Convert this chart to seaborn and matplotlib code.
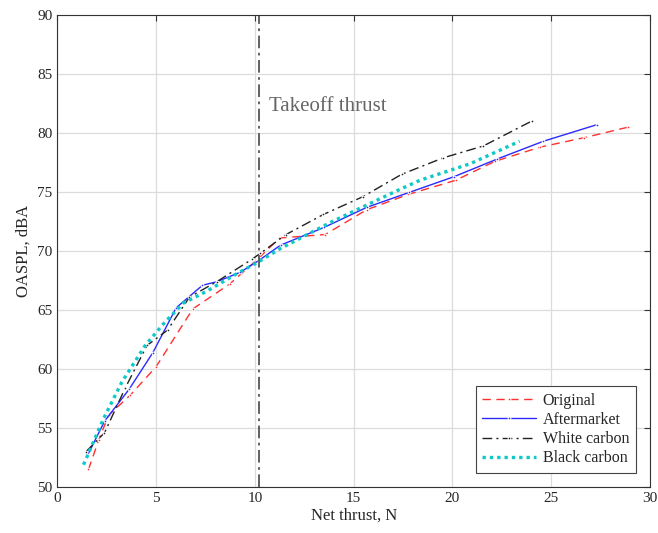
import matplotlib
matplotlib.use("Agg")
import matplotlib.pyplot as plt
import seaborn as sns
import pandas as pd

# Measured net thrust (N) and overall sound pressure level (dBA) per propeller
orig_thrust = [1.58, 2.1, 2.6, 3.7, 5.0, 6.86, 8.72, 10.2, 11.24, 13.56, 15.66, 17.77, 20.17, 22.15, 24.43, 26.66, 28.9]
orig_oaspl = [51.5, 54.0, 56.1, 57.8, 60.2, 65.1, 67.2, 69.4, 71.1, 71.4, 73.5, 74.8, 76.0, 77.6, 78.8, 79.6, 80.5]

after_thrust = [1.53, 2.4, 3.64, 4.84, 6.02, 7.35, 8.07, 9.26, 10.2, 11.3, 13.5, 15.66, 17.8, 20.08, 22.27, 24.6, 27.3]
after_oaspl = [52.7, 55.6, 58.3, 61.4, 65.2, 67.1, 67.4, 68.2, 69.2, 70.5, 72.0, 73.7, 74.96, 76.3, 77.8, 79.3, 80.7]

white_thrust = [1.45, 2.39, 3.44, 4.54, 5.58, 6.69, 8.07, 9.85, 10.27, 11.58, 13.47, 15.46, 17.43, 19.54, 21.56, 24.0]
white_oaspl = [53.0, 54.6, 58.4, 62.0, 63.3, 66.1, 67.4, 69.3, 69.8, 71.4, 73.1, 74.6, 76.5, 77.9, 78.9, 81.0]

black_thrust = [1.33, 2.34, 3.27, 4.45, 5.46, 6.39, 7.57, 9.0, 10.2, 11.28, 13.8, 15.16, 17.18, 18.36, 20.0, 20.9, 23.4]
black_oaspl = [51.9, 55.8, 58.9, 62.0, 64.0, 65.6, 66.6, 68.0, 69.1, 70.2, 72.4, 73.5, 75.1, 76.0, 76.9, 77.4, 79.3]

takeoff_thrust = 10.2

series_names = ["Original", "Aftermarket", "White carbon", "Black carbon"]

frames = []
for name, xs, ys in zip(series_names,
                        [orig_thrust, after_thrust, white_thrust, black_thrust],
                        [orig_oaspl, after_oaspl, white_oaspl, black_oaspl]):
    frames.append(pd.DataFrame({"thrust": xs, "oaspl": ys, "prop": name, "order": range(len(xs))}))
df = pd.concat(frames, ignore_index=True)

sns.set_style("white")
plt.rcParams["font.family"] = ["Liberation Serif", "DejaVu Serif"]
plt.rcParams["mathtext.fontset"] = "stix"

fig = plt.figure(figsize=(6.58, 5.33), dpi=100)
ax = fig.add_axes([0.087, 0.086, 0.901, 0.886])

styles = {
    "Original": dict(color="#ff3030", linestyle=(0, (6, 4)), marker=".", markersize=4, linewidth=1.0),
    "Aftermarket": dict(color="#2a2aff", linestyle="-", marker=".", markersize=4, linewidth=1.0),
    "White carbon": dict(color="#222222", linestyle=(0, (7, 3, 1.5, 3)), marker=".", markersize=4, linewidth=1.0),
    "Black carbon": dict(color="#10c8c8", linestyle=(0, (1, 1.2)), marker=None, linewidth=2.4),
}

for name in series_names:
    sub = df[df["prop"] == name]
    sns.lineplot(data=sub, x="thrust", y="oaspl", sort=False, estimator=None,
                 ax=ax, label=name, **styles[name])

ax.axvline(takeoff_thrust, color="#555555", linestyle=(0, (7, 2.5, 1.5, 2.5)), linewidth=1.3)
ax.text(takeoff_thrust + 0.5, 81.9, "Takeoff thrust", color="#666666", fontsize=15)

ax.set_xlim(0, 30)
ax.set_ylim(50, 90)
ax.set_xticks(range(0, 31, 5))
ax.set_yticks(range(50, 91, 5))
ax.grid(True, color="#dcdcdc", linewidth=0.9)
ax.tick_params(direction="in", top=True, right=True, labelsize=11, length=4, color="#333333")
for s in ax.spines.values():
    s.set_color("#333333")
    s.set_linewidth(0.8)
ax.set_xlabel("Net thrust, N", fontsize=12, labelpad=2)
ax.set_ylabel("OASPL, dBA", fontsize=12, labelpad=4)

leg = ax.legend(loc="lower right", fontsize=11.5, frameon=True, fancybox=False,
                edgecolor="#444444", framealpha=1, handlelength=3.4,
                borderaxespad=0.9, labelspacing=0.2, handletextpad=0.4, borderpad=0.4)
leg.get_frame().set_linewidth(0.8)

fig.savefig("out.png", dpi=100)
